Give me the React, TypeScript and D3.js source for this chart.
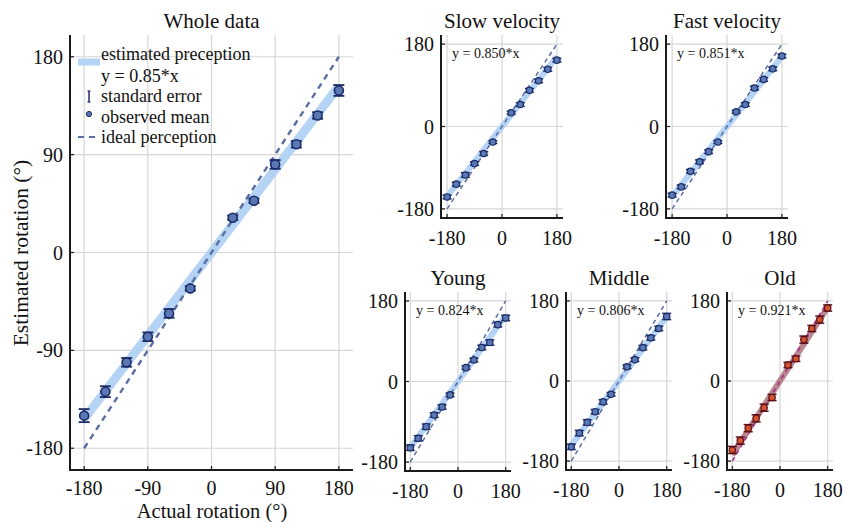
import React from 'react';
import * as d3 from 'd3';

// actual rotation levels (deg)
const ACTUAL = [-180, -150, -120, -90, -60, -30, 30, 60, 90, 120, 150, 180];

// observed means
const WHOLE_MEAN = [-150, -128, -101, -77.5, -56, -33, 32, 47.6, 81, 99.5, 126, 149];
const WHOLE_SE = [6, 5, 4, 4, 4, 2, 2, 2, 4, 3, 3, 5];

const SLOW_MEAN = [-154, -126, -106, -81, -59, -34, 30, 48, 79, 100, 125, 145];
const SLOW_SE = [4, 4, 5, 4, 4, 3, 3, 4, 4, 4, 4, 4];

const FAST_MEAN = [-150, -132, -98, -77, -55, -34, 32, 48, 84, 103, 126, 154];
const FAST_SE = [4, 4, 4, 4, 4, 3, 3, 4, 4, 4, 4, 4];

const YOUNG_MEAN = [-148, -127, -101, -75, -57, -30, 31, 48, 76, 87, 127, 142];
const YOUNG_SE = [6, 6, 6, 5, 5, 4, 4, 4, 5, 6, 5, 6];

const MIDDLE_MEAN = [-148, -117, -93, -69, -47, -30, 32, 48, 75, 97, 118, 145];
const MIDDLE_SE = [6, 6, 6, 5, 5, 4, 4, 4, 5, 5, 5, 7];

const OLD_MEAN = [-155, -134, -106, -84, -60, -37, 36, 50, 93, 118, 138, 164];
const OLD_SE = [8, 8, 8, 8, 8, 7, 6, 6, 8, 7, 8, 7];

const TITLES = ['Whole data', 'Slow velocity', 'Fast velocity', 'Young', 'Middle', 'Old'];
const SLOPES = [0.85, 0.85, 0.851, 0.824, 0.806, 0.921];
const SLOPE_LABELS = ['0.85', '0.850', '0.851', '0.824', '0.806', '0.921'];

const MAIN_TICKS = [-180, -90, 0, 90, 180];
const SMALL_TICKS = [-180, 0, 180];

const LEGEND_LABELS = ['estimated preception', 'y = 0.85*x', 'standard error', 'observed mean', 'ideal perception'];

const FONT = '"Liberation Serif", "Times New Roman", serif';

const BLUE = { band: '#b5d3f4', dash: '#5a6ea4', fill: '#5a78b4', stroke: '#1b2b68' };
const RED = { band: '#b27c84', dash: '#a42b8a', fill: '#d2552f', stroke: '#5c0f18' };

// axis boxes in page pixels
const LAYOUT = [
  { x0: 70, x1: 353, y0: 35, y1: 470, big: true },
  { x0: 441, x1: 563, y0: 35, y1: 218, big: false },
  { x0: 666, x1: 788, y0: 35, y1: 218, big: false },
  { x0: 405, x1: 511, y0: 292, y1: 471, big: false },
  { x0: 566, x1: 672, y0: 292, y1: 470, big: false },
  { x0: 727, x1: 833, y0: 292, y1: 470, big: false },
];

const MEANS = [WHOLE_MEAN, SLOW_MEAN, FAST_MEAN, YOUNG_MEAN, MIDDLE_MEAN, OLD_MEAN];
const SES = [WHOLE_SE, SLOW_SE, FAST_SE, YOUNG_SE, MIDDLE_SE, OLD_SE];

const Panel = ({ idx }) => {
  const box = LAYOUT[idx];
  const big = box.big;
  const col = idx === 5 ? RED : BLUE;
  const ticks = big ? MAIN_TICKS : SMALL_TICKS;
  const x = d3.scaleLinear().domain([-200, 200]).range([box.x0, box.x1]);
  const y = d3.scaleLinear().domain([-200, 200]).range([box.y1, box.y0]);
  const slope = SLOPES[idx];
  const line = d3.line().x(d => x(d[0])).y(d => y(d[1]));
  const r = big ? 4.5 : 3.2;
  const cap = big ? 5.5 : 4.5;
  const ebw = big ? 1.8 : 1.5;

  return (
    <g>
      {ticks.map(t => (
        <g key={'g' + t}>
          <line x1={x(t)} x2={x(t)} y1={box.y0} y2={box.y1} stroke="#d6d6d6" strokeWidth={1.2} />
          <line x1={box.x0} x2={box.x1} y1={y(t)} y2={y(t)} stroke="#d6d6d6" strokeWidth={1.2} />
        </g>
      ))}
      <path d={line([[-180, -180 * slope], [180, 180 * slope]])} stroke={col.band}
        strokeWidth={big ? 9 : 6} fill="none" opacity={idx === 5 ? 0.9 : 1} />
      <path d={line([[-180, -180], [180, 180]])} stroke={col.dash}
        strokeWidth={big ? 2.4 : 1.5} strokeDasharray={big ? '6,5' : '4.5,3.5'} fill="none" />
      {ACTUAL.map((a, i) => {
        const m = MEANS[idx][i];
        const se = SES[idx][i];
        return (
          <g key={'p' + a}>
            <line x1={x(a)} x2={x(a)} y1={y(m - se)} y2={y(m + se)} stroke={col.stroke} strokeWidth={ebw} />
            <line x1={x(a) - cap} x2={x(a) + cap} y1={y(m - se)} y2={y(m - se)} stroke={col.stroke} strokeWidth={ebw} />
            <line x1={x(a) - cap} x2={x(a) + cap} y1={y(m + se)} y2={y(m + se)} stroke={col.stroke} strokeWidth={ebw} />
            <circle cx={x(a)} cy={y(m)} r={r} fill={col.fill} stroke={col.stroke} strokeWidth={big ? 1.6 : 1.2} />
          </g>
        );
      })}
      {/* axes */}
      <line x1={box.x0} x2={box.x0} y1={box.y0} y2={box.y1 + 1} stroke="#1a1a1a" strokeWidth={2} />
      <line x1={box.x0 - 1} x2={box.x1} y1={box.y1} y2={box.y1} stroke="#1a1a1a" strokeWidth={2} />
      {ticks.map(t => (
        <g key={'t' + t}>
          <line x1={x(t)} x2={x(t)} y1={box.y1} y2={box.y1 - 4} stroke="#1a1a1a" strokeWidth={1.2} />
          <line x1={box.x0} x2={box.x0 + 4} y1={y(t)} y2={y(t)} stroke="#1a1a1a" strokeWidth={1.2} />
          <text x={x(t)} y={box.y1 + (big ? 24.5 : 27)} textAnchor="middle" fontSize={20} fill="#111">{t}</text>
          <text x={box.x0 - 7} y={y(t) + 7} textAnchor="end" fontSize={20} fill="#111">{t}</text>
        </g>
      ))}
      <text x={(box.x0 + box.x1) / 2} y={box.y0 - 7} textAnchor="middle" fontSize={21} fill="#111">{TITLES[idx]}</text>
      {!big && (
        <text x={box.x0 + 11} y={box.y0 + 23} fontSize={14} fill="#111">{`y = ${SLOPE_LABELS[idx]}*x`}</text>
      )}
    </g>
  );
};

const Legend = () => {
  const lx = 78;
  const tx = 101;
  const rows = [54, 76, 96, 117, 137];
  return (
    <g>
      <line x1={lx} x2={lx + 22} y1={62} y2={62} stroke={BLUE.band} strokeWidth={7} />
      <line x1={89} x2={89} y1={91} y2={102} stroke={BLUE.stroke} strokeWidth={1.5} />
      <line x1={87.5} x2={90.5} y1={91} y2={91} stroke={BLUE.stroke} strokeWidth={1.2} />
      <line x1={87.5} x2={90.5} y1={102} y2={102} stroke={BLUE.stroke} strokeWidth={1.2} />
      <circle cx={89} cy={114} r={2.6} fill={BLUE.fill} stroke={BLUE.stroke} strokeWidth={1} />
      <line x1={lx} x2={lx + 22} y1={137} y2={137} stroke={BLUE.dash} strokeWidth={2.2} strokeDasharray="6,5" />
      {LEGEND_LABELS.map((l, i) => (
        <text key={l} x={tx} y={rows[i] + 6} fontSize={18} fill="#111">{l}</text>
      ))}
    </g>
  );
};

export default function App() {
  return (
    <svg width={843} height={522} style={{ position: 'absolute', left: 0, top: 0, background: '#fff' }}
      fontFamily={FONT}>
      <rect width={843} height={522} fill="#fff" />
      {LAYOUT.map((_, i) => <Panel key={i} idx={i} />)}
      <Legend />
      <text transform="translate(28,253) rotate(-90)" textAnchor="middle" fontSize={21.5} fill="#111">
        Estimated rotation (°)
      </text>
      <text x={212} y={517.5} textAnchor="middle" fontSize={20.5} fill="#111">Actual rotation (°)</text>
    </svg>
  );
}
